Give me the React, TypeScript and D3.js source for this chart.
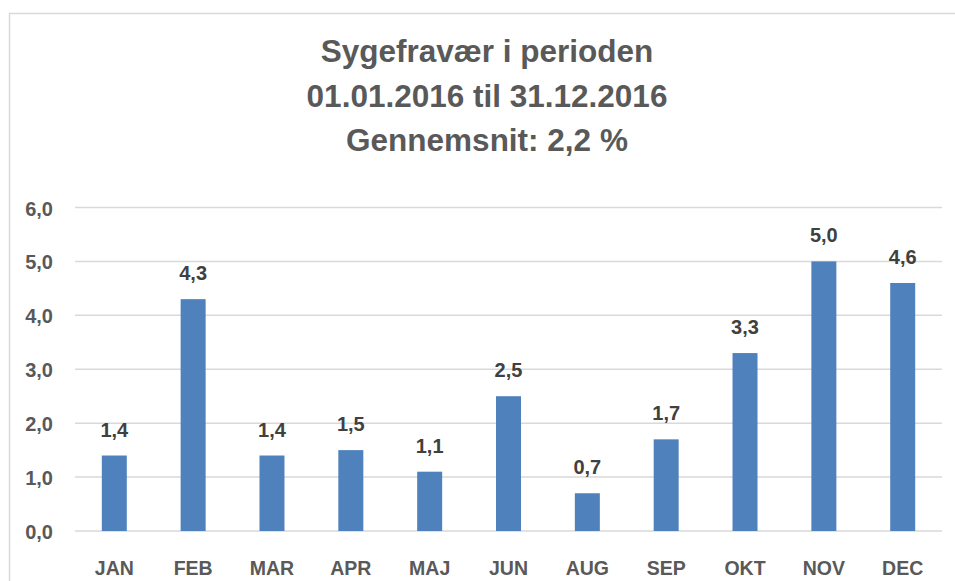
import React, { useEffect } from 'react';
import * as d3 from 'd3';

const months = ['JAN', 'FEB', 'MAR', 'APR', 'MAJ', 'JUN', 'AUG', 'SEP', 'OKT', 'NOV', 'DEC'];
const values = [1.4, 4.3, 1.4, 1.5, 1.1, 2.5, 0.7, 1.7, 3.3, 5.0, 4.6];
const yTicks = [0, 1, 2, 3, 4, 5, 6];
const titleLines = ['Sygefravær i perioden', '01.01.2016 til 31.12.2016', 'Gennemsnit: 2,2 %'];

const width = 955;
const height = 581;
const font = '"Liberation Sans", Arial, sans-serif';

function fmt(v: number) {
  return d3.format('.1f')(v).replace('.', ',');
}

export default function App() {
  useEffect(() => {
    document.body.style.margin = '0';
  }, []);

  const x = d3.scaleBand<string>()
    .domain(months)
    .range([75, 942])
    .paddingInner(0.683)
    .paddingOuter(0.34);

  const y = d3.scaleLinear().domain([0, 6]).range([531, 207.5]);

  return (
    <svg width={width} height={height} style={{ display: 'block', background: '#fff' }}>
      {/* chart frame, cut off on the right and bottom */}
      <rect x={9.5} y={13.5} width={960} height={600} fill="#fff" stroke="#d9d9d9" strokeWidth={1.5} />

      {titleLines.map((t, i) => (
        <text key={t} x={487} y={62 + i * 44.5} textAnchor="middle"
          fontFamily={font} fontWeight="bold" fontSize={31.5} fill="#595959">{t}</text>
      ))}

      {yTicks.map(t => (
        <g key={t}>
          <line x1={75} x2={942} y1={y(t)} y2={y(t)} stroke="#d9d9d9" strokeWidth={1.5} />
          <text x={53} y={y(t) + 8} textAnchor="end" fontFamily={font} fontWeight="bold"
            fontSize={20} fill="#595959">{fmt(t)}</text>
        </g>
      ))}

      {months.map((m, i) => (
        <g key={m}>
          <rect x={x(m)} y={y(values[i])} width={x.bandwidth()} height={y(0) - y(values[i])} fill="#4f81bd" />
          <text x={(x(m) ?? 0) + x.bandwidth() / 2} y={y(values[i]) - 19} textAnchor="middle"
            fontFamily={font} fontWeight="bold" fontSize={20} fill="#404040">{fmt(values[i])}</text>
          <text x={(x(m) ?? 0) + x.bandwidth() / 2} y={575} textAnchor="middle"
            fontFamily={font} fontWeight="bold" fontSize={19.5} fill="#595959">{m}</text>
        </g>
      ))}
    </svg>
  );
}
